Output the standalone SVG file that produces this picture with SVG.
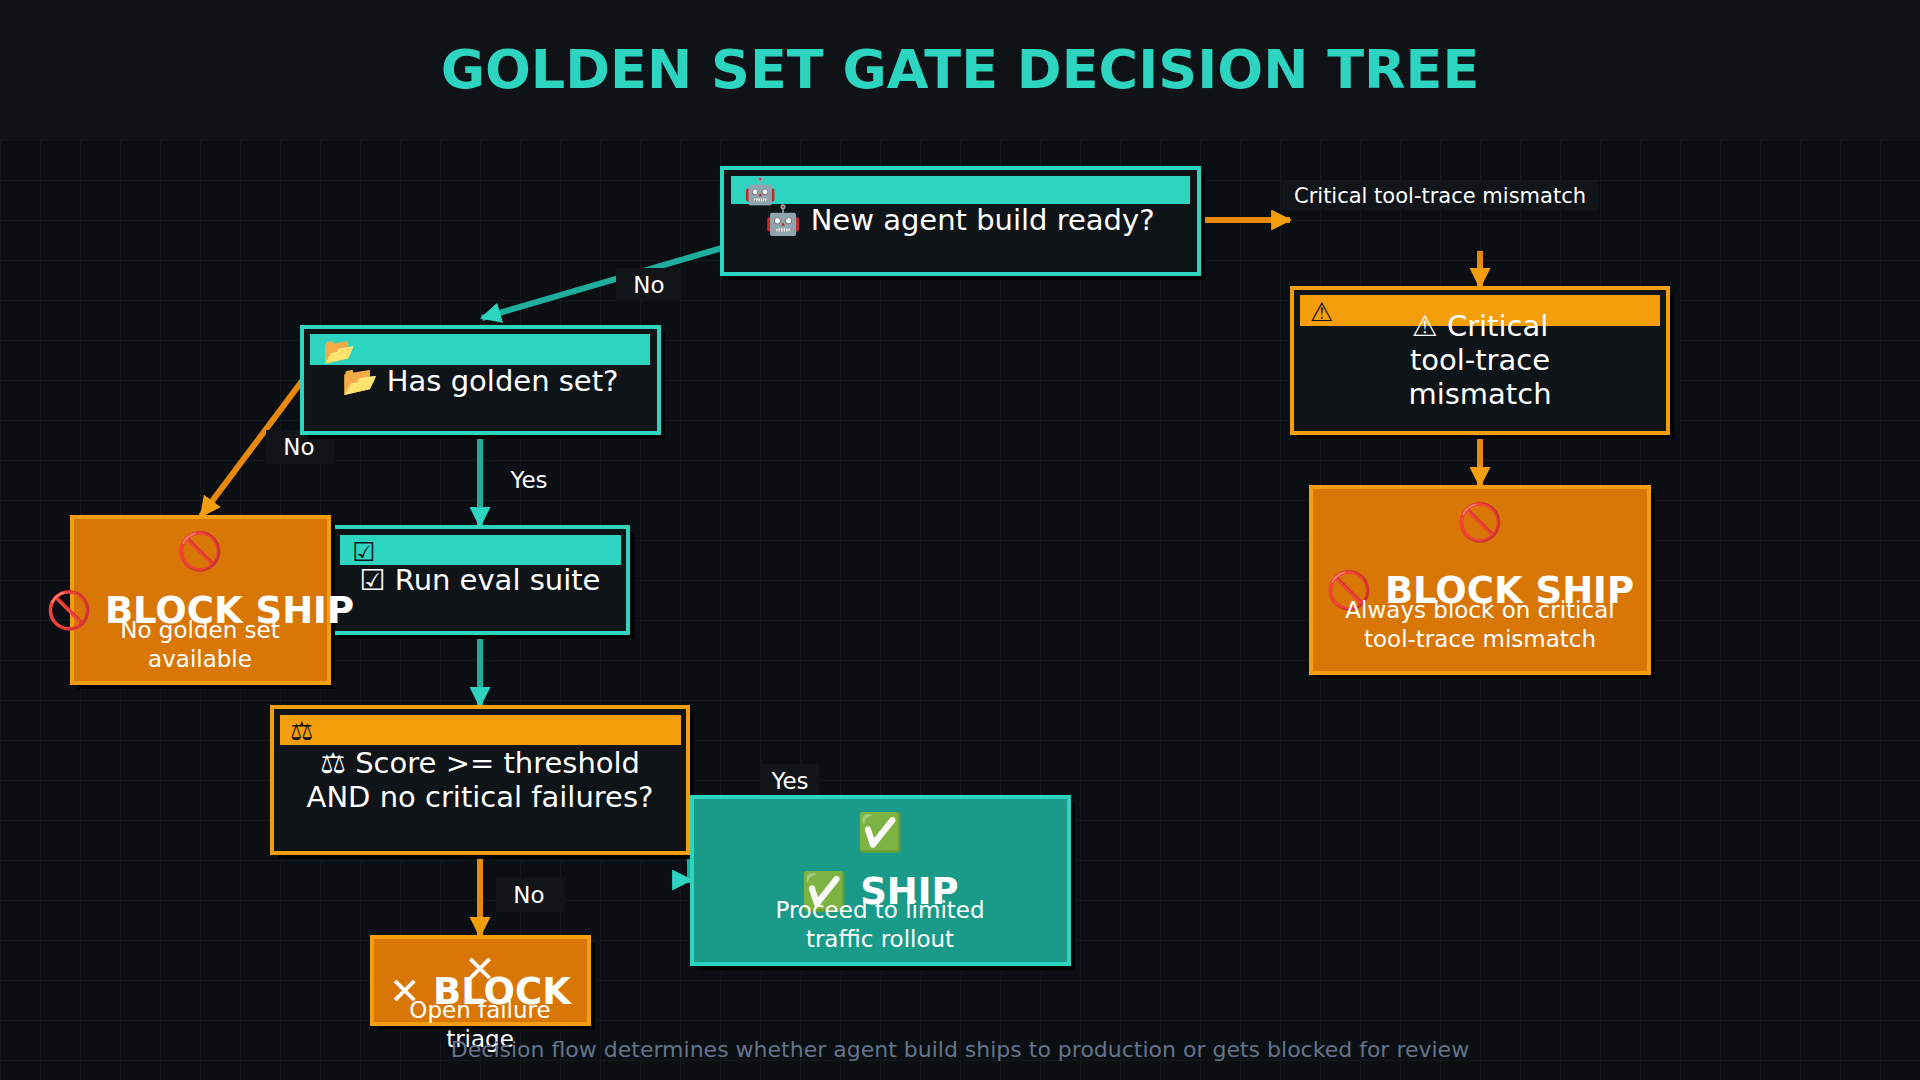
<svg xmlns="http://www.w3.org/2000/svg" width="1920" height="1080" viewBox="0 0 1920 1080">
<defs>
<pattern id="grid" width="40" height="40" patternUnits="userSpaceOnUse" x="0" y="20"><path d="M40 0H0V40" fill="none" stroke="#161b21" stroke-width="1.5"/></pattern>
<marker id="at" viewBox="0 0 10 10" refX="9" refY="5" markerWidth="3.5" markerHeight="3.5" orient="auto"><path d="M0 0L10 5L0 10z" fill="#2dd4bf"/></marker>
<marker id="ao" viewBox="0 0 10 10" refX="9" refY="5" markerWidth="3.5" markerHeight="3.5" orient="auto"><path d="M0 0L10 5L0 10z" fill="#f59e0b"/></marker>
</defs>
<style>
text{font-family:"DejaVu Sans","Noto Sans",sans-serif;fill:#fff;text-anchor:middle}
.q{fill:#0f1418;stroke-width:4}
.qt{stroke:#2dd4bf}.qo{stroke:#f59e0b}
.bt{fill:#2dd4bf}.bo{fill:#f59e0b}
.sh{fill:#000}
.ic{font-size:26px;fill:#0f1418;text-anchor:start}
.nt{font-size:29px}
.term{stroke-width:4}
.big{font-size:37px;font-weight:bold}
.sub{font-size:23px}
.ct{stroke:#1fae9c;stroke-width:6;fill:none}
.co{stroke:#e8890c;stroke-width:6;fill:none}
.lb{fill:#111519}
.lt{font-size:23px}
</style>
<rect width="1920" height="1080" fill="#0b0e12"/>
<rect y="140" width="1920" height="940" fill="url(#grid)"/>
<rect width="1920" height="140" fill="#0f1317"/>
<text x="960" y="88" style="font-size:54px;font-weight:bold;fill:#2dd4bf">GOLDEN SET GATE DECISION TREE</text>

<g id="connectors">
<path class="ct" d="M722 248L482 318" marker-end="url(#at)"/>
<rect class="lb" x="616" y="268" width="65" height="33"/><text class="lt" x="649" y="293">No</text>
<path class="co" d="M1199 220H1290" marker-end="url(#ao)"/>
<rect class="lb" x="1282" y="181" width="316" height="30"/><text x="1440" y="203" style="font-size:21px">Critical tool-trace mismatch</text>
<path class="co" d="M1480 251V287" marker-end="url(#ao)"/>
<path class="co" d="M1480 433V486" marker-end="url(#ao)"/>
<path class="co" d="M302 381L201 516" marker-end="url(#ao)"/>
<rect class="lb" x="266" y="430" width="68" height="34"/><text class="lt" x="299" y="455">No</text>
<path class="ct" d="M480 433V526" marker-end="url(#at)"/>
<text class="lt" x="529" y="488">Yes</text>
<path class="ct" d="M690 780V880H691" marker-end="url(#at)"/>
<path class="ct" d="M480 633V706" marker-end="url(#at)"/>
<rect class="lb" x="760" y="764" width="59" height="34"/><text class="lt" x="790" y="789">Yes</text>
<path class="co" d="M480 853V936" marker-end="url(#ao)"/>
<rect class="lb" x="496" y="877" width="69" height="35"/><text class="lt" x="529" y="903">No</text>
</g>

<g id="n-build">
<rect class="sh" x="728" y="174" width="477" height="106"/>
<rect class="q qt" x="722" y="168" width="477" height="106"/>
<rect class="bt" x="731" y="176" width="459" height="28"/>
<text class="ic" x="744" y="200">🤖</text>
<text class="nt" x="960" y="230">🤖 New agent build ready?</text>
</g>
<g id="n-golden">
<rect class="sh" x="308" y="333" width="357" height="106"/>
<rect class="q qt" x="302" y="327" width="357" height="106"/>
<rect class="bt" x="310" y="334" width="340" height="31"/>
<text class="ic" x="323" y="360">📂</text>
<text class="nt" x="480" y="391">📂 Has golden set?</text>
</g>
<g id="n-eval">
<rect class="sh" x="339" y="533" width="295" height="106"/>
<rect class="q qt" x="333" y="527" width="295" height="106"/>
<rect class="bt" x="340" y="535" width="281" height="30"/>
<text class="ic" x="352" y="561">☑</text>
<text class="nt" x="480" y="590">☑ Run eval suite</text>
</g>
<g id="n-score">
<rect class="sh" x="278" y="713" width="416" height="146"/>
<rect class="q qo" x="272" y="707" width="416" height="146"/>
<rect class="bo" x="280" y="715" width="401" height="30"/>
<text class="ic" x="290" y="740">⚖</text>
<text class="nt" x="480" y="773">⚖ Score &gt;= threshold</text>
<text class="nt" x="480" y="807">AND no critical failures?</text>
</g>
<g id="n-critical">
<rect class="sh" x="1298" y="294" width="376" height="145"/>
<rect class="q qo" x="1292" y="288" width="376" height="145"/>
<rect class="bo" x="1300" y="295" width="360" height="31"/>
<text class="ic" x="1310" y="321">⚠</text>
<text class="nt" x="1480" y="336">⚠ Critical</text>
<text class="nt" x="1480" y="370">tool-trace</text>
<text class="nt" x="1480" y="404">mismatch</text>
</g>
<g id="t-block1">
<rect class="sh" x="78" y="523" width="257" height="166"/>
<rect class="term" x="72" y="517" width="257" height="166" fill="#d97706" stroke="#f59e0b"/>
<text x="200" y="564" style="font-size:37px">🚫</text>
<text class="big" x="200" y="623">🚫 BLOCK SHIP</text>
<text class="sub" x="200" y="638">No golden set</text>
<text class="sub" x="200" y="667">available</text>
</g>
<g id="t-block2">
<rect class="sh" x="1317" y="493" width="338" height="186"/>
<rect class="term" x="1311" y="487" width="338" height="186" fill="#d97706" stroke="#f59e0b"/>
<text x="1480" y="535" style="font-size:37px">🚫</text>
<text class="big" x="1480" y="603">🚫 BLOCK SHIP</text>
<text class="sub" x="1480" y="618">Always block on critical</text>
<text class="sub" x="1480" y="647">tool-trace mismatch</text>
</g>
<g id="t-ship">
<rect class="sh" x="698" y="803" width="377" height="167"/>
<rect class="term" x="692" y="797" width="377" height="167" fill="#1a9a88" stroke="#2dd4bf"/>
<text x="880" y="845" style="font-size:37px">✅</text>
<text class="big" x="880" y="904">✅ SHIP</text>
<text class="sub" x="880" y="918">Proceed to limited</text>
<text class="sub" x="880" y="947">traffic rollout</text>
</g>
<g id="t-block3">
<rect class="sh" x="378" y="943" width="217" height="87"/>
<rect class="term" x="372" y="937" width="217" height="87" fill="#d97706" stroke="#f59e0b"/>
<text x="480" y="982" style="font-size:37px">✕</text>
<text class="big" x="480" y="1004">✕ BLOCK</text>
<text class="sub" x="480" y="1018">Open failure</text>
<text class="sub" x="480" y="1047">triage</text>
</g>
<text x="960" y="1057" style="font-size:22px;fill:#64748b">Decision flow determines whether agent build ships to production or gets blocked for review</text>
</svg>
